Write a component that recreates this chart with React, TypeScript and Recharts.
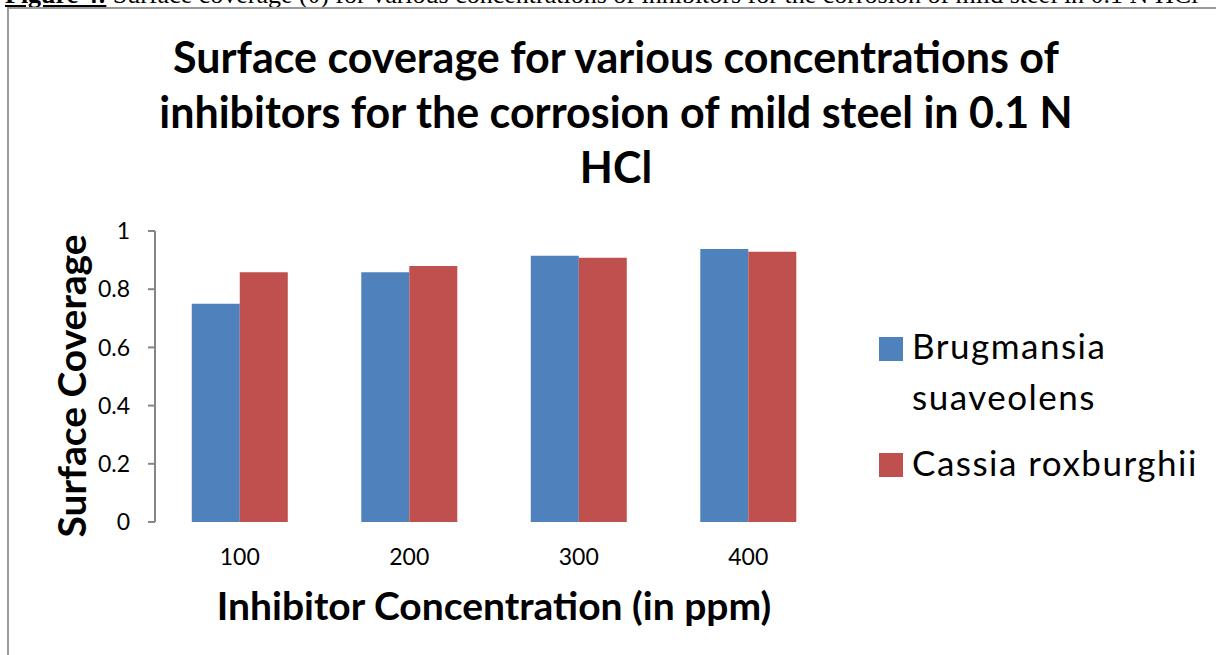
import { BarChart, Bar, XAxis, YAxis } from 'recharts';

const concentrations = ['100', '200', '300', '400'];
const brugmansia = [0.75, 0.858, 0.915, 0.938];
const cassia = [0.858, 0.88, 0.908, 0.929];
const yTicks = [0, 0.2, 0.4, 0.6, 0.8, 1];
const edgeTicks = [0, 1, 2, 3, 4];

const seriesColors = ['#4F81BD', '#C0504D'];
// legend text is wrapped the way the original chart wraps it
const legendLines = [['Brugmansia', 'suaveolens'], ['Cassia roxburghii']];

const data = concentrations.map((c, i) => ({
  conc: c,
  brug: brugmansia[i],
  cassia: cassia[i],
}));

const FONT = 'Lato, "DejaVu Sans", sans-serif';
const AXIS = '#868686';

function LegendSvg() {
  return (
    <svg width={340} height={170} style={{ position: 'absolute', left: 870, top: 320 }}>
      <rect x={9} y={17} width={24} height={24} fill={seriesColors[0]} />
      <text x={42} y={39} fontFamily={FONT} fontSize={35} letterSpacing={1.5} fill="#000">{legendLines[0][0]}</text>
      <text x={42} y={90} fontFamily={FONT} fontSize={35} letterSpacing={1.5} fill="#000">{legendLines[0][1]}</text>
      <rect x={9} y={133} width={24} height={24} fill={seriesColors[1]} />
      <text x={42} y={156} fontFamily={FONT} fontSize={35} letterSpacing={1.5} fill="#000">{legendLines[1][0]}</text>
    </svg>
  );
}

export default function App() {
  return (
    <div style={{ position: 'absolute', left: 0, top: 0, width: 1216, height: 655, background: '#fff', overflow: 'hidden' }}>
      {/* caption of the page, cut off by the top edge */}
      <div style={{ position: 'absolute', left: 5, top: -20, whiteSpace: 'nowrap', fontFamily: '"Liberation Serif", serif', fontSize: 26, color: '#000' }}>
        <b style={{ textDecoration: 'underline' }}>Figure 4:</b> Surface coverage (θ) for various concentrations of inhibitors for the corrosion of mild steel in 0.1 N HCl
      </div>
      <div style={{ position: 'absolute', left: 7, top: 7, width: 1300, height: 700, border: '2px solid #9a9a9a', background: '#fff' }} />

      <div style={{ position: 'absolute', left: 0, top: 29, width: 1232, textAlign: 'center', fontFamily: FONT, fontWeight: 700, fontSize: 43, lineHeight: '55px', color: '#000' }}>
        Surface coverage for various concentrations of<br />
        inhibitors for the corrosion of mild steel in 0.1 N<br />
        HCl
      </div>

      <div style={{ position: 'absolute', left: 0, top: 0 }}>
        <BarChart
          width={1216}
          height={655}
          data={data}
          margin={{ top: 231, right: 383, bottom: 93, left: 95 }}
          barCategoryGap="21.7%"
          barGap={0}
        >
          <XAxis
            xAxisId="edges"
            type="number"
            domain={[0, 4]}
            ticks={edgeTicks}
            tick={false}
            height={0}
            axisLine={{ stroke: AXIS, strokeWidth: 2 }}
            tickLine={{ stroke: AXIS, strokeWidth: 2 }}
            tickSize={8}
          />
          <XAxis
            xAxisId="cat"
            dataKey="conc"
            height={40}
            axisLine={false}
            tickLine={false}
            tickSize={8}
            tickMargin={19}
            tick={{ fill: '#000', fontSize: 23, fontFamily: FONT }}
            label={{
              content: () => (
                <text x={494} y={620} textAnchor="middle" fill="#000" fontSize={39} fontWeight={700} fontFamily={FONT}>
                  Inhibitor Concentration (in ppm)
                </text>
              ),
            }}
          />
          <YAxis
            width={60}
            domain={[0, 1]}
            ticks={yTicks}
            interval={0}
            axisLine={{ stroke: AXIS, strokeWidth: 2 }}
            tickLine={{ stroke: AXIS, strokeWidth: 2 }}
            tickSize={7}
            tickMargin={18}
            tick={{ fill: '#000', fontSize: 23, fontFamily: FONT }}
            label={{
              content: () => (
                <text x={86} y={386} transform="rotate(-90, 86, 386)" textAnchor="middle" fill="#000" fontSize={39} fontWeight={700} fontFamily={FONT}>
                  Surface Coverage
                </text>
              ),
            }}
          />
          <Bar xAxisId="cat" dataKey="brug" name="Brugmansia suaveolens" fill={seriesColors[0]} isAnimationActive={false} />
          <Bar xAxisId="cat" dataKey="cassia" name="Cassia roxburghii" fill={seriesColors[1]} isAnimationActive={false} />
        </BarChart>
      </div>

      <LegendSvg />
    </div>
  );
}
